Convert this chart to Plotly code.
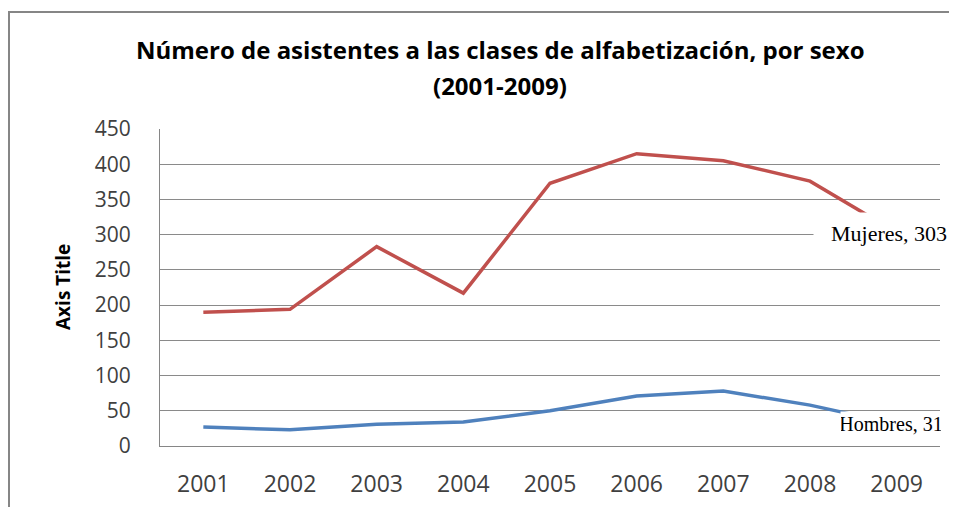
import plotly.graph_objects as go

years = ["2001", "2002", "2003", "2004", "2005", "2006", "2007", "2008", "2009"]
mujeres = [190, 194, 283, 217, 373, 415, 405, 376, 303]
hombres = [27, 23, 31, 34, 50, 71, 78, 58, 31]
y_ticks = [0, 50, 100, 150, 200, 250, 300, 350, 400, 450]

OFF = 8  # default page body margin
W, H = 957 - 2 * OFF, 515 - 2 * OFF
# plot area in page pixels: left 160, right 940, top 129, bottom 446
L = 160 - OFF
T = 129 - OFF
R = W - (940 - OFF)
B = H - (446 - OFF)
pw, ph = W - L - R, H - T - B

def px_x(page_px):
    return (page_px - OFF - L) / pw

def px_y(page_py):
    return (H - B - (page_py - OFF)) / ph

fig = go.Figure()
fig.add_trace(go.Scatter(x=years, y=mujeres, mode="lines", name="Mujeres",
                         line=dict(color="#C0504D", width=3.5)))
fig.add_trace(go.Scatter(x=years, y=hombres, mode="lines", name="Hombres",
                         line=dict(color="#4F81BD", width=3.5)))

fig.update_layout(
    width=W, height=H,
    margin=dict(l=L, r=R, t=T, b=B, autoexpand=False),
    paper_bgcolor="white", plot_bgcolor="white",
    showlegend=False,
    xaxis=dict(type="category", range=[-0.5, len(years) - 0.5], showgrid=False,
               showline=True, linecolor="#868686", linewidth=1, ticks="",
               tickfont=dict(family="Open Sans", size=23, color="#404040"),
               ticklabelstandoff=17),
    yaxis=dict(range=[0, 450], tickvals=y_ticks, showgrid=True, gridcolor="#8a8a8a",
               gridwidth=1, showline=True, linecolor="#868686", linewidth=1,
               ticks="", tickfont=dict(family="Open Sans", size=21, color="#404040"),
               ticklabelstandoff=24, zeroline=False),
)

title_font = dict(family="Open Sans", size=24, color="black")
fig.add_annotation(text="<b>Número de asistentes a las clases de alfabetización, por sexo</b>",
                   xref="paper", yref="paper", x=px_x(500), y=px_y(49),
                   xanchor="center", yanchor="middle", showarrow=False, font=title_font)
fig.add_annotation(text="<b>(2001-2009)</b>",
                   xref="paper", yref="paper", x=px_x(500), y=px_y(86),
                   xanchor="center", yanchor="middle", showarrow=False, font=title_font)
fig.add_annotation(text="<b>Axis Title</b>", textangle=-90,
                   xref="paper", yref="paper", x=px_x(63), y=px_y(287),
                   xanchor="center", yanchor="middle", showarrow=False,
                   font=dict(family="Open Sans", size=19, color="black"))

last = len(years) - 1
fig.add_annotation(text=f"Mujeres, {mujeres[-1]}", x=last, y=mujeres[-1],
                   xref="x", yref="y", showarrow=False,
                   font=dict(family="Liberation Serif", size=22, color="black"),
                   bgcolor="white", width=148, height=38, xshift=-8,
                   xanchor="center", yanchor="middle")
fig.add_annotation(text=f"Hombres, {hombres[-1]}", x=last, y=hombres[-1],
                   xref="x", yref="y", showarrow=False,
                   font=dict(family="Liberation Serif", size=20, color="black"),
                   bgcolor="white", width=100, height=24, borderpad=0, xshift=-6,
                   xanchor="center", yanchor="middle")

fig.add_shape(type="rect", xref="paper", yref="paper",
              x0=px_x(9), x1=px_x(1000), y0=px_y(560), y1=px_y(12),
              line=dict(color="#868686", width=2), layer="above")

fig.write_html("out.html")
